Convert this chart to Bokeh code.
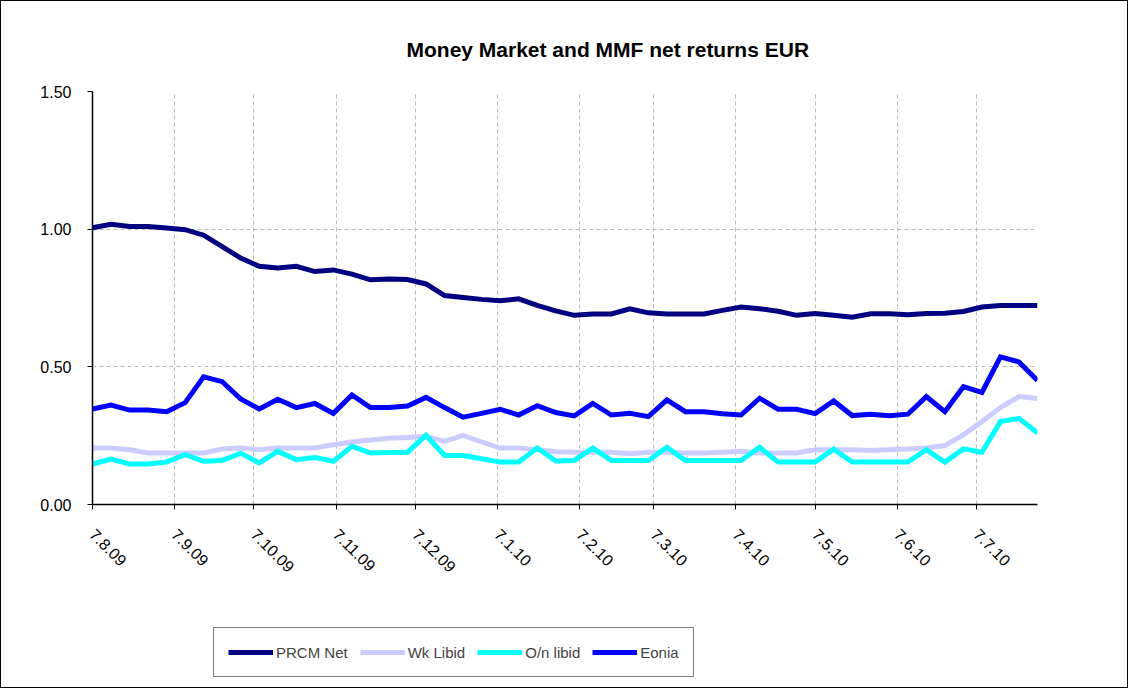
import pandas as pd
from bokeh.plotting import figure
from bokeh.layouts import column
from bokeh.models import FixedTicker, Legend, LegendItem, Range1d, Title, NumeralTickFormatter
from bokeh.embed import file_html
from bokeh.resources import INLINE

start_date = "2009-08-07"
n_points = 52

prcm_net = [1.005, 1.018, 1.010, 1.010, 1.004, 0.998, 0.978, 0.937, 0.895, 0.865,
            0.859, 0.865, 0.846, 0.852, 0.837, 0.816, 0.819, 0.817, 0.801, 0.759,
            0.752, 0.745, 0.740, 0.747, 0.723, 0.703, 0.687, 0.692, 0.692, 0.711,
            0.696, 0.692, 0.692, 0.692, 0.705, 0.717, 0.711, 0.702, 0.687, 0.694,
            0.687, 0.680, 0.693, 0.693, 0.689, 0.694, 0.695, 0.701, 0.717, 0.723,
            0.723, 0.723]
wk_libid = [0.205, 0.205, 0.199, 0.187, 0.187, 0.187, 0.187, 0.202, 0.205, 0.199,
            0.205, 0.205, 0.205, 0.217, 0.227, 0.234, 0.241, 0.243, 0.248, 0.229,
            0.251, 0.227, 0.205, 0.205, 0.199, 0.192, 0.190, 0.190, 0.190, 0.184,
            0.190, 0.190, 0.187, 0.187, 0.190, 0.193, 0.187, 0.187, 0.187, 0.199,
            0.199, 0.199, 0.196, 0.199, 0.202, 0.205, 0.214, 0.253, 0.301, 0.352,
            0.392, 0.385]
on_libid = [0.147, 0.165, 0.147, 0.147, 0.154, 0.181, 0.157, 0.160, 0.186, 0.151,
            0.193, 0.163, 0.171, 0.157, 0.211, 0.187, 0.189, 0.190, 0.251, 0.178,
            0.178, 0.166, 0.154, 0.154, 0.205, 0.158, 0.160, 0.205, 0.160, 0.160,
            0.160, 0.208, 0.160, 0.160, 0.160, 0.160, 0.208, 0.154, 0.154, 0.154,
            0.201, 0.154, 0.154, 0.154, 0.154, 0.199, 0.154, 0.202, 0.190, 0.301,
            0.313, 0.260]
eonia = [0.347, 0.361, 0.343, 0.343, 0.337, 0.370, 0.464, 0.446, 0.383, 0.347,
         0.382, 0.352, 0.367, 0.331, 0.398, 0.352, 0.352, 0.358, 0.389, 0.352,
         0.317, 0.331, 0.346, 0.325, 0.359, 0.334, 0.322, 0.367, 0.325, 0.331,
         0.319, 0.380, 0.337, 0.337, 0.330, 0.325, 0.386, 0.346, 0.346, 0.330,
         0.376, 0.323, 0.328, 0.322, 0.328, 0.392, 0.337, 0.428, 0.407, 0.536,
         0.518, 0.450]

tick_dates = ["2009-08-07", "2009-09-07", "2009-10-07", "2009-11-07", "2009-12-07",
              "2010-01-07", "2010-02-07", "2010-03-07", "2010-04-07", "2010-05-07",
              "2010-06-07", "2010-07-07"]
tick_labels = ["7.8.09", "7.9.09", "7.10.09", "7.11.09", "7.12.09", "7.1.10",
               "7.2.10", "7.3.10", "7.4.10", "7.5.10", "7.6.10", "7.7.10"]
y_ticks = [0.0, 0.5, 1.0, 1.5]

series_names = ["PRCM Net", "Wk Libid", "O/n libid", "Eonia"]
series_colors = ["#000080", "#CCCCFF", "#00FFFF", "#0000FF"]
series_values = [prcm_net, wk_libid, on_libid, eonia]

dates = pd.date_range(start_date, periods=n_points, freq="7D")


def to_ms(d):
    return int(pd.Timestamp(d).value // 10**6)


tick_ms = [to_ms(d) for d in tick_dates]

FONT = "Liberation Sans"
W = 1126
MAIN_H = 590
LEG_H = 96

p = figure(width=W, height=MAIN_H, x_axis_type="datetime",
           output_backend="svg", toolbar_location=None,
           min_border_left=91, min_border_right=90,
           min_border_top=90, min_border_bottom=87)
p.x_range = Range1d(to_ms(dates[0]), to_ms(dates[-1]))
p.y_range = Range1d(0, 1.5)

t = Title(text="Money Market and MMF net returns EUR", align="left",
          text_font=FONT, text_font_size="21px", text_font_style="bold",
          text_color="black", standoff=62, offset=314)
p.add_layout(t, "above")

for col, vals in zip(series_colors, series_values):
    p.line(dates, vals, line_color=col, line_width=5, line_join="miter")

p.xaxis.ticker = FixedTicker(ticks=tick_ms)
p.xaxis.major_label_overrides = dict(zip(tick_ms, tick_labels))
p.xaxis.major_label_orientation = -0.785398
p.yaxis.ticker = FixedTicker(ticks=y_ticks)
p.yaxis.formatter = NumeralTickFormatter(format="0.00")

for ax in (p.xaxis[0], p.yaxis[0]):
    ax.axis_line_color = "black"
    ax.axis_line_width = 1.5
    ax.major_tick_line_color = "black"
    ax.major_tick_out = 5
    ax.major_tick_in = 0
    ax.minor_tick_line_color = None
    ax.major_label_text_font = FONT
    ax.major_label_text_font_size = "16px"
    ax.major_label_text_color = "black"
p.yaxis.major_label_standoff = 16
p.xaxis.major_label_standoff = 22

p.xgrid.ticker = FixedTicker(ticks=tick_ms)
p.ygrid.ticker = FixedTicker(ticks=y_ticks)
for g in (p.xgrid[0], p.ygrid[0]):
    g.grid_line_color = "#BBBBBB"
    g.grid_line_dash = "4 3"
    g.grid_line_width = 1
p.outline_line_color = None
p.background_fill_color = "white"
p.border_fill_color = "white"

# legend strip below the chart (its frame is aligned with the chart's frame)
q = figure(width=W, height=LEG_H, x_axis_type="datetime",
           output_backend="svg", toolbar_location=None,
           min_border_left=0, min_border_right=0, min_border_top=0,
           min_border_bottom=0, x_axis_location=None, y_axis_location=None)
q.x_range = Range1d(0, 1)
q.y_range = Range1d(10, 11)
q.xgrid.visible = False
q.ygrid.visible = False
q.outline_line_color = None
q.background_fill_color = "white"
q.border_fill_color = "white"
items = []
for name, col, vals in zip(series_names, series_colors, series_values):
    r = q.line(dates, vals, line_color=col, line_width=5)
    items.append(LegendItem(label=name, renderers=[r]))
legend = Legend(items=items, orientation="horizontal", location=(121, 10),
                label_text_font=FONT, label_text_font_size="15px",
                glyph_width=45, glyph_height=20, label_standoff=3, spacing=12,
                padding=14, margin=0, border_line_color="black",
                border_line_width=1, background_fill_color="white")
q.add_layout(legend, "center")

layout = column(p, q, spacing=0)
layout.styles = {"border": "1px solid black"}

open("out.html", "w").write(file_html(layout, INLINE))
